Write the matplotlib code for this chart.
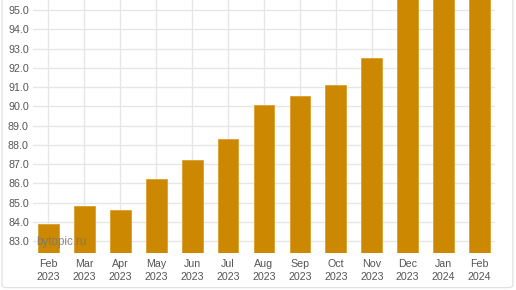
#!/usr/bin/env python3
import numpy as np
from matplotlib import pyplot as plt
from matplotlib.patches import FancyBboxPatch

months = ['Feb\n2023', 'Mar\n2023', 'Apr\n2023', 'May\n2023', 'Jun\n2023', 'Jul\n2023',
          'Aug\n2023', 'Sep\n2023', 'Oct\n2023', 'Nov\n2023', 'Dec\n2023', 'Jan\n2024', 'Feb\n2024']
values = [83.9, 84.8, 84.6, 86.2, 87.2, 88.3, 90.05, 90.55, 91.1, 92.5, 97.0, 97.6, 98.2]
y_ticks = [83.0, 84.0, 85.0, 86.0, 87.0, 88.0, 89.0, 90.0, 91.0, 92.0, 93.0, 94.0, 95.0]


def main():
    plt.rcParams['font.family'] = ['Liberation Sans', 'DejaVu Sans']
    fig = plt.figure(figsize=(5.16, 2.9), dpi=100)
    axis = fig.add_axes([33 / 516, 1 - 253 / 290, 462 / 516, 253 / 290])

    xs = np.arange(len(months))
    axis.bar(xs, values, width=0.58, color='#cc8800', edgecolor='#d9a030',
             linewidth=0.6, zorder=2)

    axis.set_xlim(-0.43, len(months) - 1 + 0.43)
    axis.set_ylim(82.38, 95.52)
    axis.set_xticks(xs)
    axis.set_xticklabels(months, linespacing=1.4)
    axis.set_yticks(y_ticks)
    axis.set_yticklabels([f'{v:.1f}' for v in y_ticks])
    axis.tick_params(length=0, labelsize=7.7, colors='#555555')
    axis.tick_params(axis='x', pad=4)
    axis.tick_params(axis='y', pad=3)
    axis.grid(True, color='#e6e6e6', linewidth=1.0, zorder=0)
    axis.set_axisbelow(True)
    for spine in axis.spines.values():
        spine.set_visible(False)

    # watermark over the first bar
    axis.text(3 / 462, (253 - 242) / 253, 'bytopic.ru', transform=axis.transAxes,
              fontsize=8.4, color='#777777', alpha=0.85, va='center', ha='left', zorder=10)

    frame = FancyBboxPatch((0.004, 0.008), 0.99, 1.2, boxstyle='round,pad=0,rounding_size=0.01',
                           transform=fig.transFigure, facecolor='none',
                           edgecolor='#dddddd', linewidth=0.8)
    fig.patches.append(frame)

    fig.savefig('out.png', dpi=100)


if __name__ == "__main__":
    main()
